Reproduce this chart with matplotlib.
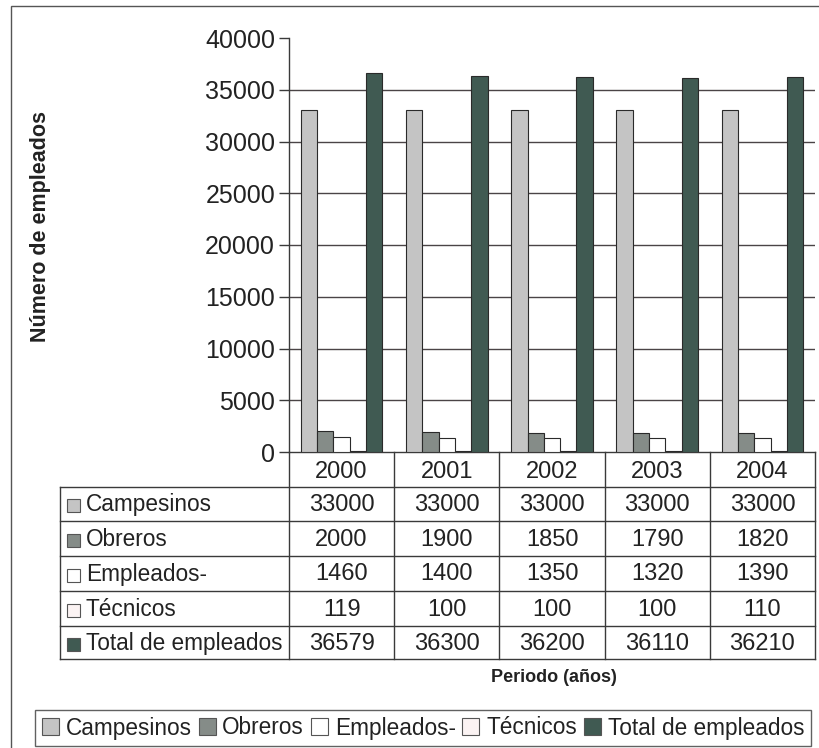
import matplotlib
matplotlib.use("Agg")
import matplotlib.pyplot as plt
from matplotlib.patches import Patch, Rectangle
from matplotlib.lines import Line2D
from matplotlib.transforms import blended_transform_factory
import numpy as np

plt.rcParams['font.family'] = ['Liberation Sans', 'DejaVu Sans']

years = ["2000", "2001", "2002", "2003", "2004"]
series_names = ["Campesinos", "Obreros", "Empleados-", "Técnicos", "Total de empleados"]
campesinos = [33000, 33000, 33000, 33000, 33000]
obreros = [2000, 1900, 1850, 1790, 1820]
empleados = [1460, 1400, 1350, 1320, 1390]
tecnicos = [119, 100, 100, 100, 110]
total = [36579, 36300, 36200, 36110, 36210]
series_values = [campesinos, obreros, empleados, tecnicos, total]
yticks = [0, 5000, 10000, 15000, 20000, 25000, 30000, 35000, 40000]

colors = ["#c4c4c4", "#858c88", "#ffffff", "#fbf3f3", "#405a52"]
edge = "#2a2a2a"
line_col = "#3a3a3a"
txt_col = "#222222"

W, H = 819, 748
fig = plt.figure(figsize=(W / 100, H / 100), dpi=100)

def fx(px):
    return px / W

def fy(py):
    return 1 - py / H

ax_left, ax_right, ax_top, ax_bottom = 289, 815, 38, 452
ax = fig.add_axes([fx(ax_left), fy(ax_bottom), fx(ax_right - ax_left), (ax_bottom - ax_top) / H])

x = np.arange(len(years))
n = len(series_values)
bw = 0.155
for i, (vals, c) in enumerate(zip(series_values, colors)):
    off = (i - (n - 1) / 2) * bw
    ax.bar(x + off, vals, width=bw, color=c, edgecolor=edge, linewidth=0.8, zorder=3)

ax.set_xlim(-0.5, len(years) - 0.5)
ax.set_ylim(0, 40000)
ax.set_yticks(yticks)
ax.set_yticklabels([str(t) for t in yticks], fontsize=18, color=txt_col)
ax.tick_params(axis='y', direction='out', length=7, width=1, color=line_col, pad=3)
ax.set_xticks([])
ax.hlines(yticks[1:-1], -0.5, len(years) - 0.5, colors="#4a4446", linewidth=1.0, zorder=1)
for s in ["top", "right"]:
    ax.spines[s].set_visible(False)
for s in ["left", "bottom"]:
    ax.spines[s].set_color(line_col)
    ax.spines[s].set_linewidth(1.0)

# ---- data table under the chart ----
bt = blended_transform_factory(ax.transData, fig.transFigure)
header_top, header_bot = 452, 487
row_edges = [487, 521, 556, 591, 626, 659]
label_left = 60

for xe in np.arange(-0.5, len(years), 1.0):
    ax.add_line(Line2D([xe, xe], [fy(header_top), fy(row_edges[-1])], transform=bt,
                       color=line_col, lw=1.0, clip_on=False))
fig.add_artist(Line2D([fx(label_left), fx(label_left)], [fy(row_edges[0]), fy(row_edges[-1])],
                      color=line_col, lw=1.0))
for ry in row_edges:
    fig.add_artist(Line2D([fx(label_left), fx(ax_right)], [fy(ry), fy(ry)], color=line_col, lw=1.0))

for xi, yr in zip(x, years):
    ax.text(xi, fy((header_top + header_bot) / 2 + 2), yr, transform=bt, ha='center', va='center',
            fontsize=17, color=txt_col)

for r, (name, vals, c) in enumerate(zip(series_names, series_values, colors)):
    yc = (row_edges[r] + row_edges[r + 1]) / 2 + 1
    fig.add_artist(Rectangle((fx(67), fy(yc + 7)), fx(13), 13 / H, facecolor=c,
                             edgecolor="#555555", lw=0.8))
    fig.text(fx(86), fy(yc), name, ha='left', va='center', fontsize=16.3, color=txt_col)
    for xi, v in zip(x, vals):
        ax.text(xi, fy(yc), str(v), transform=bt, ha='center', va='center', fontsize=17,
                color=txt_col)

fig.text(fx(41), fy(226), "Número de empleados", rotation=90, ha='center', va='center',
         fontsize=15.5, fontweight='bold', color=txt_col)
fig.text(fx(554), fy(678), "Periodo (años)", ha='center', va='center', fontsize=13,
         fontweight='bold', color=txt_col)

handles = [Patch(facecolor=c, edgecolor="#555555", linewidth=0.8) for c in colors]
leg = fig.legend(handles, series_names, loc='center', bbox_to_anchor=(fx(423), fy(728)),
                 ncol=5, fontsize=16.3, frameon=True, fancybox=False, edgecolor=line_col,
                 handlelength=0.75, handleheight=0.75, handletextpad=0.3, columnspacing=0.3,
                 borderpad=0.3, borderaxespad=0)
leg.get_frame().set_linewidth(1.0)
for t in leg.get_texts():
    t.set_color(txt_col)

fig.add_artist(Rectangle((fx(11), -0.05), 1.2, fy(6) + 0.05, fill=False, edgecolor="#555555", lw=1.0))

fig.savefig("out.png", dpi=100)
